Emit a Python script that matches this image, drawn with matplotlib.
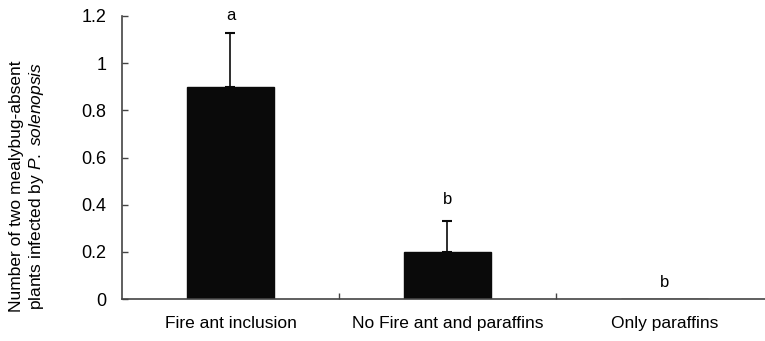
import numpy as np
from matplotlib import pyplot as plt

plt.rcParams['font.family'] = ['Liberation Sans', 'DejaVu Sans']
plt.rcParams['mathtext.fontset'] = 'custom'
plt.rcParams['mathtext.rm'] = 'Liberation Sans'
plt.rcParams['mathtext.it'] = 'Liberation Sans:italic'

categories = ['Fire ant inclusion', 'No Fire ant and paraffins', 'Only paraffins']
means = [0.9, 0.2, 0.0]
errors = [0.23, 0.13, 0.0]
letters = ['a', 'b', 'b']
letter_y = [1.2, 0.42, 0.07]

fig = plt.figure(figsize=(7.65, 3.41), dpi=100)
ax = fig.add_axes([122/765, 1 - 299/341, 643/765, 283/341])

x = np.arange(len(categories))
ax.bar(x, means, width=0.405, color='#0a0a0a', edgecolor='#0a0a0a')
# only upper error bars
ax.errorbar(x[:2], means[:2], yerr=[np.zeros(2), errors[:2]], fmt='none',
            ecolor='#0a0a0a', elinewidth=1.2, capsize=3.5, capthick=1.5)
for xi, t, ty in zip(x, letters, letter_y):
    ax.text(xi, ty, t, ha='center', va='center', fontsize=12)

ax.set_xlim(-0.5, -0.5 + 643/217)
ax.set_ylim(0, 1.2)
ax.set_yticks([0, 0.2, 0.4, 0.6, 0.8, 1.0, 1.2])
ax.set_yticklabels(['0', '0.2', '0.4', '0.6', '0.8', '1', '1.2'])
ax.set_xticks([0.5, 1.5])
ax.set_xticklabels([])
ax.set_xticks(x, minor=True)
ax.set_xticklabels(categories, minor=True)
ax.tick_params(axis='x', which='major', direction='in', length=4, width=1, color='#444444')
ax.tick_params(axis='x', which='minor', length=0, pad=12, labelsize=12.5)
ax.tick_params(axis='y', direction='in', length=4, width=1, color='#444444', pad=11, labelsize=13)

for s in ['top', 'right']:
    ax.spines[s].set_visible(False)
for s in ['left', 'bottom']:
    ax.spines[s].set_color('#444444')
    ax.spines[s].set_linewidth(1.2)

ax.set_ylabel('Number of two mealybug-absent\nplants infected by $\\it{P.\\ solenopsis}$', fontsize=12.5)
ax.yaxis.set_label_coords(-0.118, 0.40)

fig.savefig('out.png', dpi=100)
